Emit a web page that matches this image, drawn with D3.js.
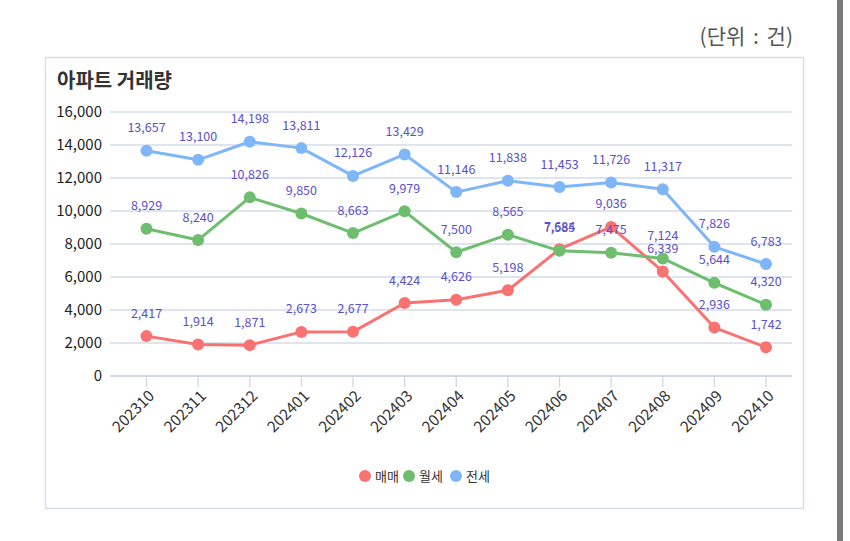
<!DOCTYPE html>
<html><head><meta charset="utf-8">
<script src="https://cdn.jsdelivr.net/npm/d3@7"></script>
<style>
html,body{margin:0;padding:0;background:#fff;}
svg{display:block;font-family:"Noto Sans CJK KR","Noto Sans",sans-serif;}
</style></head>
<body><svg id="c" width="850" height="541"></svg>
<script>
const months = ["202310","202311","202312","202401","202402","202403","202404","202405","202406","202407","202408","202409","202410"];
const sale = [2417,1914,1871,2673,2677,4424,4626,5198,7684,9036,6339,2936,1742];
const monthly = [8929,8240,10826,9850,8663,9979,7500,8565,7585,7475,7124,5644,4320];
const jeonse = [13657,13100,14198,13811,12126,13429,11146,11838,11453,11726,11317,7826,6783];
const seriesNames = ["매매","월세","전세"];
const seriesColors = ["#f87272","#6fbd6f","#7fb6f8"];
const yTicks = [0,2000,4000,6000,8000,10000,12000,14000,16000];

const svg = d3.select("#c");
svg.append("rect").attr("x",837).attr("y",0).attr("width",6).attr("height",541).attr("fill","#7b7b7b");
svg.append("text").attr("x",793).attr("y",44).attr("text-anchor","end")
  .attr("font-size",21).attr("fill","#555").attr("word-spacing",3).text("(단위 : 건)");
svg.append("rect").attr("x",45.5).attr("y",57.5).attr("width",758).attr("height",451)
  .attr("fill","#fff").attr("stroke","#d7dfe8").attr("stroke-width",1.5);
svg.append("text").attr("x",57).attr("y",88).attr("font-size",20).attr("font-weight",700)
  .attr("fill","#333").text("아파트 거래량");

const x = d3.scalePoint().domain(months).range([146.5,766]);
const y = d3.scaleLinear().domain([0,16000]).range([376,112]);
const gridL = 110, gridR = 792;

svg.append("g").selectAll("line").data(yTicks).join("line")
  .attr("x1",gridL).attr("x2",gridR).attr("y1",d=>y(d)).attr("y2",d=>y(d))
  .attr("stroke","#d3dde8").attr("stroke-width",1.3);
svg.append("g").selectAll("text").data(yTicks).join("text")
  .attr("x",102).attr("y",d=>y(d)).attr("dy","0.35em").attr("text-anchor","end")
  .attr("font-size",15).attr("fill","#222").text(d=>d3.format(",")(d));
svg.append("g").selectAll("line").data(months).join("line")
  .attr("x1",d=>x(d)).attr("x2",d=>x(d)).attr("y1",376).attr("y2",387)
  .attr("stroke","#cfd9e4").attr("stroke-width",1.3);
svg.append("line").attr("x1",gridL).attr("x2",gridR).attr("y1",376).attr("y2",376)
  .attr("stroke","#c9d5e2").attr("stroke-width",1.5);
svg.append("g").selectAll("text").data(months).join("text")
  .attr("transform",d=>`translate(${x(d)+5},${393}) rotate(-45)`)
  .attr("text-anchor","end").attr("dy","0.35em")
  .attr("font-size",15.5).attr("fill","#333").text(d=>d);

const allSeries = [sale, monthly, jeonse];
allSeries.forEach((vals,i)=>{
  const pts = months.map((m,j)=>[x(m), y(vals[j])]);
  svg.append("path").attr("d",d3.line()(pts)).attr("fill","none")
    .attr("stroke",seriesColors[i]).attr("stroke-width",3).attr("stroke-linejoin","round");
  svg.append("g").selectAll("circle").data(pts).join("circle")
    .attr("cx",d=>d[0]).attr("cy",d=>d[1]).attr("r",6).attr("fill",seriesColors[i]);
});
allSeries.forEach((vals,i)=>{
  svg.append("g").selectAll("text").data(vals).join("text")
    .attr("x",(d,j)=>x(months[j])).attr("y",d=>y(d)-18.5)
    .attr("text-anchor","middle").attr("font-size",12.5).attr("fill","#5a50cf")
    .text(d=>d3.format(",")(d));
});

const lg = [[365,375],[409,419],[456,466]];
seriesNames.forEach((n,i)=>{
  svg.append("circle").attr("cx",lg[i][0]).attr("cy",476).attr("r",6).attr("fill",seriesColors[i]);
  svg.append("text").attr("x",lg[i][1]).attr("y",476).attr("dy","0.35em")
    .attr("font-size",13).attr("fill","#333").text(n);
});
</script></body></html>
